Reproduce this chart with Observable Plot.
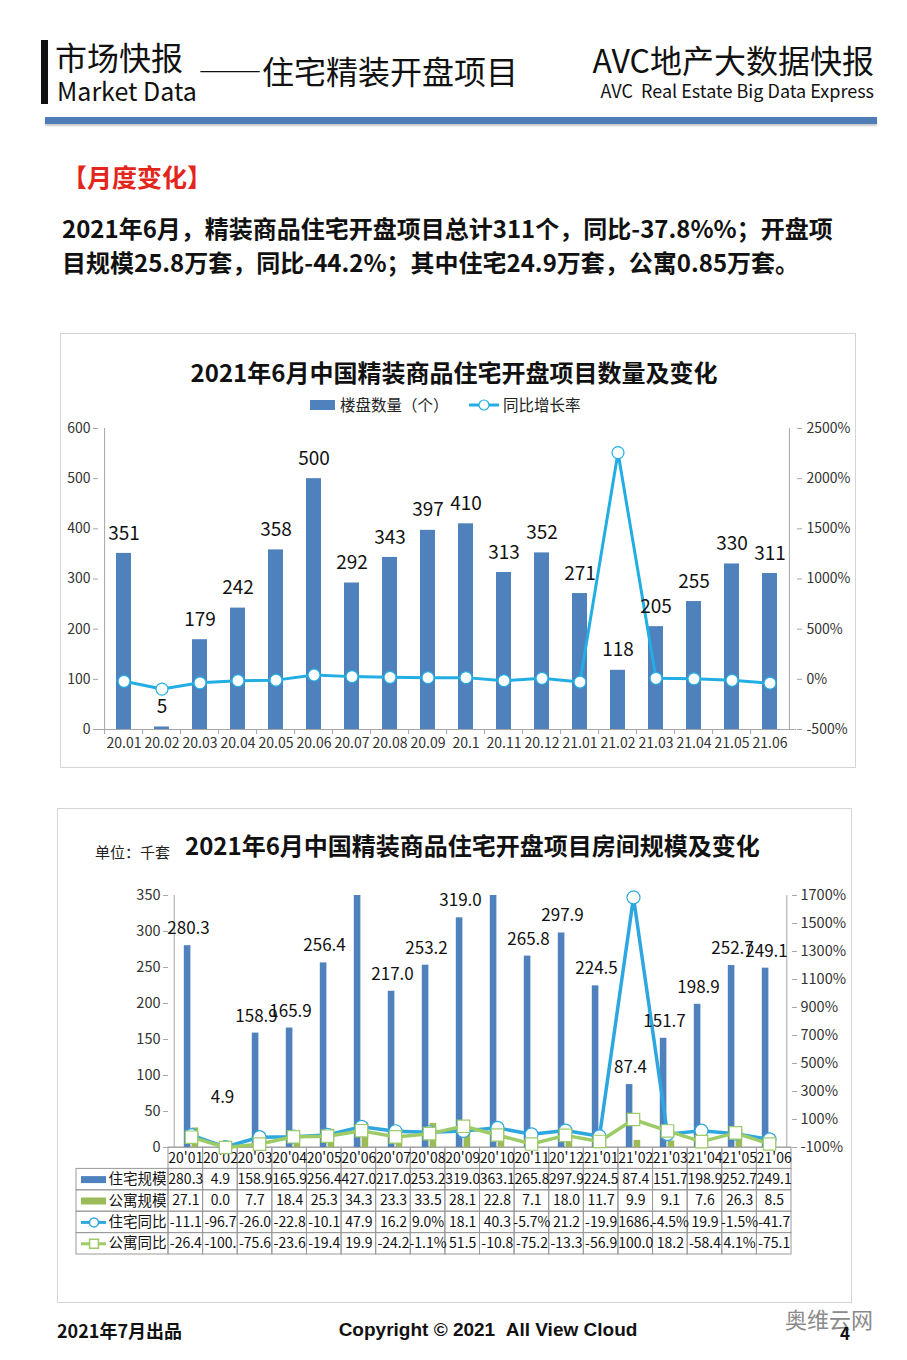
<!DOCTYPE html>
<html lang="zh-CN">
<head>
<meta charset="utf-8">
<script src="https://cdn.jsdelivr.net/npm/d3@7"></script>
<script src="https://cdn.jsdelivr.net/npm/@observablehq/plot@0.6"></script>
<style>
html,body{margin:0;padding:0;background:#fff;}
#page{position:relative;width:907px;height:1360px;overflow:hidden;font-family:"Noto Sans CJK SC","Noto Sans",sans-serif;color:#111;}
.a{position:absolute;white-space:nowrap;line-height:1;}
.box{position:absolute;border:1px solid #d4d4d4;box-sizing:border-box;}
.plotwrap{position:absolute;}
#page svg{overflow:visible;}
</style>
</head>
<body>
<div id="page">
  <!-- header -->
  <div class="a" style="left:41px;top:40px;width:7px;height:64px;background:#111;"></div>
  <div class="a" style="left:55px;top:40px;font-size:32px;">市场快报</div>
  <div class="a" style="left:57px;top:78px;font-size:25px;">Market Data</div>
  <div class="a" style="left:198px;top:54px;font-size:32px;">——住宅精装开盘项目</div>
  <div class="a" style="right:33px;top:42px;font-size:32px;line-height:34px;height:34px;">AVC地产大数据快报</div>
  <div class="a" style="right:33px;top:81px;font-size:18px;">AVC&nbsp;&nbsp;Real Estate Big Data Express</div>
  <div class="a" style="left:45px;top:117px;width:832px;height:7px;background:#4F7DB8;box-shadow:0 2px 2px #c8c8c8;"></div>

  <div class="a" style="left:62px;top:164px;font-size:25px;font-weight:bold;color:#E3261C;">【月度变化】</div>
  <div class="a" style="left:62px;top:211px;font-size:24px;font-weight:bold;line-height:34px;color:#111;">2021年6月，精装商品住宅开盘项目总计311个，同比-37.8%%；开盘项<br>目规模25.8万套，同比-44.2%；其中住宅24.9万套，公寓0.85万套。</div>

  <!-- chart 1 -->
  <div class="box" style="left:60px;top:333px;width:796px;height:435px;"></div>
  <div class="a" style="left:60px;width:788px;text-align:center;top:360px;font-size:24px;font-weight:bold;">2021年6月中国精装商品住宅开盘项目数量及变化</div>
  <div class="a" style="left:310px;top:400px;width:25px;height:10px;background:#4F81BD;"></div>
  <div class="a" style="left:340px;top:397px;font-size:15.5px;color:#222;">楼盘数量（个）</div>
  <svg class="a" style="left:468px;top:398px;" width="32" height="14"><line x1="1" y1="7" x2="31" y2="7" stroke="#23AEE3" stroke-width="3"/><circle cx="16" cy="7" r="5" fill="white" stroke="#23AEE3" stroke-width="1.2"/></svg>
  <div class="a" style="left:503px;top:397px;font-size:15.5px;color:#222;">同比增长率</div>
  <div id="chart1" class="plotwrap" style="left:60px;top:415px;"></div>

  <!-- chart 2 -->
  <div class="box" style="left:57px;top:808px;width:795px;height:495px;"></div>
  <div class="a" style="left:95px;top:844px;font-size:15px;color:#222;">单位：千套</div>
  <div class="a" style="left:185px;top:833px;font-size:24px;font-weight:bold;">2021年6月中国精装商品住宅开盘项目房间规模及变化</div>
  <div id="table2" class="plotwrap" style="left:57px;top:1146px;"></div>
  <div id="chart2" class="plotwrap" style="left:57px;top:880px;"></div>

  <!-- footer -->
  <div class="a" style="left:57px;top:1321px;font-size:18px;font-weight:bold;">2021年7月出品</div>
  <div class="a" style="left:288px;width:400px;text-align:center;top:1320px;font-size:19px;font-weight:bold;font-family:'Liberation Sans',Arial,sans-serif;">Copyright © 2021&nbsp;&nbsp;All View Cloud</div>
  <div class="a" style="left:785px;top:1307px;font-size:22px;color:#8a8a8a;">奥维云网</div>
  <div class="a" style="left:840px;top:1324px;font-size:17px;font-weight:bold;">4</div>
</div>

<script>
// ---------- data: chart 1 ----------
const months1 = ["20.01","20.02","20.03","20.04","20.05","20.06","20.07","20.08","20.09","20.1","20.11","20.12","21.01","21.02","21.03","21.04","21.05","21.06"];
const projectCount = [351,5,179,242,358,500,292,343,397,410,313,352,271,118,205,255,330,311];
const projectYoY = [-20,-97,-35,-13,-8,43,27,20,17,17,-13,10,-27,2260,10,5,-10,-37.8];
const countTicks = [0,100,200,300,400,500,600];
const yoyTicks1 = [-500,0,500,1000,1500,2000,2500];

// ---------- data: chart 2 ----------
const months2 = ["20'01","20'02","20'03","20'04","20'05","20'06","20'07","20'08","20'09","20'10","20'11","20'12","21'01","21'02","21'03","21'04","21'05","21'06"];
const residentialUnits = [280.3,4.9,158.9,165.9,256.4,427.0,217.0,253.2,319.0,363.1,265.8,297.9,224.5,87.4,151.7,198.9,252.7,249.1];
const apartmentUnits = [27.1,0.0,7.7,18.4,25.3,34.3,23.3,33.5,28.1,22.8,7.1,18.0,11.7,9.9,9.1,7.6,26.3,8.5];
const residentialYoY = [-11.1,-96.7,-26.0,-22.8,-10.1,47.9,16.2,9.0,18.1,40.3,-5.7,21.2,-19.9,1686.4,-4.5,19.9,-1.5,-41.7];
const apartmentYoY = [-26.4,-100.0,-75.6,-23.6,-19.4,19.9,-24.2,-1.1,51.5,-10.8,-75.2,-13.3,-56.9,100.0,18.2,-58.4,4.1,-75.1];
const unitTicks = [0,50,100,150,200,250,300,350];
const yoyTicks2 = [-100,100,300,500,700,900,1100,1300,1500,1700];
const rowNames = ["住宅规模","公寓规模","住宅同比","公寓同比"];

// ---------- style ----------
const FONT = "'Noto Sans CJK SC','Noto Sans',sans-serif";
const BLUE = "#4F81BD", GREEN = "#9BBB59", CYAN1 = "#23AEE3", CYAN2 = "#2EA7E0", LGREEN = "#9DCB68";
const AXIS = "#a6a6a6", GRID = "#9a9a9a";

// ---------- chart 1 ----------
const data1 = months1.map((m, i) => ({m, n: projectCount[i], r: projectYoY[i]}));
const toL1 = v => (v + 500) / 3000 * 600;
const fromL1 = v => Math.round(v / 600 * 3000 - 500);
const W1 = 796, ML1 = 38, MR1 = 60;
const step1 = (W1 - ML1 - MR1) / months1.length;

const chart1 = Plot.plot({
  width: W1, height: 345,
  marginLeft: ML1, marginRight: MR1, marginTop: 13, marginBottom: 31,
  style: {background: "transparent", fontFamily: FONT, fontSize: "14px", color: "#333", overflow: "visible"},
  x: {domain: months1, paddingInner: 0.6, paddingOuter: 0.3, label: null},
  y: {domain: [0, 600], label: null},
  marks: [
    Plot.barY(data1, {x: "m", y: "n", fill: BLUE}),
    Plot.ruleY([0], {stroke: AXIS}),
    Plot.ruleX([months1[0]], {dx: -step1 / 2, stroke: AXIS}),
    Plot.ruleX([months1[months1.length - 1]], {dx: step1 / 2, stroke: AXIS}),
    Plot.ruleX(months1, {x: d => d, y1: 0, y2: -10, dx: -step1 / 2, stroke: AXIS}),
    Plot.axisY({ticks: countTicks, anchor: "left", tickSize: 5, tickPadding: 3, label: null, stroke: AXIS, fill: "#333"}),
    Plot.axisY({ticks: yoyTicks1.map(toL1), anchor: "right", tickSize: 5, tickPadding: 5, label: null,
      tickFormat: d => fromL1(d) + "%", stroke: AXIS, fill: "#333"}),
    Plot.axisX({tickSize: 0, tickPadding: 9, label: null, fill: "#333"}),
    Plot.line(data1, {x: "m", y: d => toL1(d.r), stroke: CYAN1, strokeWidth: 3}),
    Plot.dot(data1, {x: "m", y: d => toL1(d.r), r: 6, fill: "white", stroke: CYAN1, strokeWidth: 1.2}),
    Plot.text(data1, {x: "m", y: "n", text: d => String(d.n), dy: -20, fontSize: 19, fill: "#111"})
  ]
});
document.getElementById("chart1").appendChild(chart1);

// ---------- chart 2 ----------
const data2 = months2.map((m, i) => ({m, res: residentialUnits[i], apt: apartmentUnits[i], ry: residentialYoY[i], ay: apartmentYoY[i]}));
const toL2 = v => (v + 100) / 1800 * 350;
const fromL2 = v => Math.round(v / 350 * 1800 - 100);
const W2 = 795, ML2 = 111, MR2 = 61;
const step2 = (W2 - ML2 - MR2) / months2.length;
const half2 = step2 / 2;

const chart2 = Plot.plot({
  width: W2, height: 279,
  marginLeft: ML2, marginRight: MR2, marginTop: 15, marginBottom: 12,
  style: {background: "transparent", fontFamily: FONT, fontSize: "14.5px", color: "#333", overflow: "visible"},
  x: {domain: months2, padding: 0, axis: null, label: null},
  y: {domain: [0, 350], clamp: true, label: null},
  marks: [
    Plot.barY(data2, {x: "m", y: "res", fill: BLUE, insetLeft: half2 - 7.5, insetRight: half2 + 0.3}),
    Plot.barY(data2, {x: "m", y: "apt", fill: GREEN, insetLeft: half2 + 0.3, insetRight: half2 - 7.5}),
    Plot.ruleY([0], {stroke: AXIS}),
    Plot.ruleX([months2[0]], {dx: -half2, stroke: AXIS}),
    Plot.ruleX([months2[months2.length - 1]], {dx: half2, stroke: AXIS}),
    Plot.axisY({ticks: unitTicks, anchor: "left", tickSize: 5, tickPadding: 3, label: null, stroke: AXIS, fill: "#333"}),
    Plot.axisY({ticks: yoyTicks2.map(toL2), anchor: "right", tickSize: 5, tickPadding: 4, label: null,
      tickFormat: d => fromL2(d) + "%", stroke: AXIS, fill: "#333"}),
    Plot.line(data2, {x: "m", y: d => toL2(d.ry), stroke: CYAN2, strokeWidth: 3.5}),
    Plot.dot(data2, {x: "m", y: d => toL2(d.ry), r: 6.5, fill: "white", stroke: CYAN2, strokeWidth: 1.2}),
    Plot.line(data2, {x: "m", y: d => toL2(d.ay), stroke: LGREEN, strokeWidth: 3.5}),
    Plot.dot(data2, {x: "m", y: d => toL2(d.ay), symbol: "square", r: 7, fill: "white", stroke: LGREEN, strokeWidth: 1.2}),
    Plot.text(data2.filter(d => d.res <= 350 && d.res >= 20), {x: "m", y: "res", text: d => d.res.toFixed(1), dy: -17, dx: -3, fontSize: 17, fill: "#111"}),
    Plot.text(data2.filter(d => d.res < 20), {x: "m", y: "res", text: d => d.res.toFixed(1), dy: -46, dx: -3, fontSize: 17, fill: "#111"})
  ]
});
document.getElementById("chart2").appendChild(chart2);

// ---------- data table under chart 2 ----------
const pctText = v => Math.abs(v) < 10 ? v.toFixed(1) + "%" : v.toFixed(1).slice(0, 5);
const seriesValues = [residentialUnits, apartmentUnits, residentialYoY, apartmentYoY];
const seriesText = [v => v.toFixed(1), v => v.toFixed(1), pctText, pctText];
const labelLeft = -0.5 - 92 / step2;   // label column spans ~92px left of the data columns
const headerCells = months2.map((m, i) => ({i, m}));
const bodyRows = rowNames.map((name, k) => ({name, r: k + 1, k}));
const bodyCells = bodyRows.flatMap(row => months2.map((m, i) => ({i, r: row.r, text: seriesText[row.k](seriesValues[row.k][i])})));
const keyX1 = labelLeft + 5 / step2, keyX2 = labelLeft + 30 / step2, keyMid = (keyX1 + keyX2) / 2;

const table2 = Plot.plot({
  width: W2, height: 110,
  marginLeft: 19, marginRight: MR2, marginTop: 1, marginBottom: 2,
  style: {background: "transparent", fontFamily: FONT, fontSize: "14px", color: "#111", overflow: "visible"},
  x: {domain: [labelLeft, months2.length - 0.5], axis: null},
  y: {domain: [0, 5], reverse: true, axis: null},
  marks: [
    Plot.rect(headerCells, {x1: d => d.i - 0.5, x2: d => d.i + 0.5, y1: () => 0, y2: () => 1, fill: "none", stroke: GRID}),
    Plot.rect(bodyCells, {x1: d => d.i - 0.5, x2: d => d.i + 0.5, y1: d => d.r, y2: d => d.r + 1, fill: "none", stroke: GRID}),
    Plot.rect(bodyRows, {x1: () => labelLeft, x2: () => -0.5, y1: d => d.r, y2: d => d.r + 1, fill: "none", stroke: GRID}),
    Plot.text(headerCells, {x: "i", y: () => 0.5, text: "m"}),
    Plot.text(bodyCells, {x: "i", y: d => d.r + 0.5, text: "text"}),
    Plot.text(bodyRows, {x: () => -0.5, y: d => d.r + 0.5, text: "name", textAnchor: "end", dx: -2, fontSize: 14.5}),
    // legend keys
    Plot.ruleY([bodyRows[0]], {y: d => d.r + 0.5, x1: () => keyX1, x2: () => keyX2, stroke: BLUE, strokeWidth: 7}),
    Plot.ruleY([bodyRows[1]], {y: d => d.r + 0.5, x1: () => keyX1, x2: () => keyX2, stroke: GREEN, strokeWidth: 7}),
    Plot.ruleY([bodyRows[2]], {y: d => d.r + 0.5, x1: () => keyX1, x2: () => keyX2, stroke: CYAN2, strokeWidth: 3}),
    Plot.dot([bodyRows[2]], {x: () => keyMid, y: d => d.r + 0.5, r: 4.5, fill: "white", stroke: CYAN2}),
    Plot.ruleY([bodyRows[3]], {y: d => d.r + 0.5, x1: () => keyX1, x2: () => keyX2, stroke: LGREEN, strokeWidth: 3}),
    Plot.dot([bodyRows[3]], {x: () => keyMid, y: d => d.r + 0.5, r: 5, symbol: "square", fill: "white", stroke: LGREEN})
  ]
});
document.getElementById("table2").appendChild(table2);
</script>
</body>
</html>
